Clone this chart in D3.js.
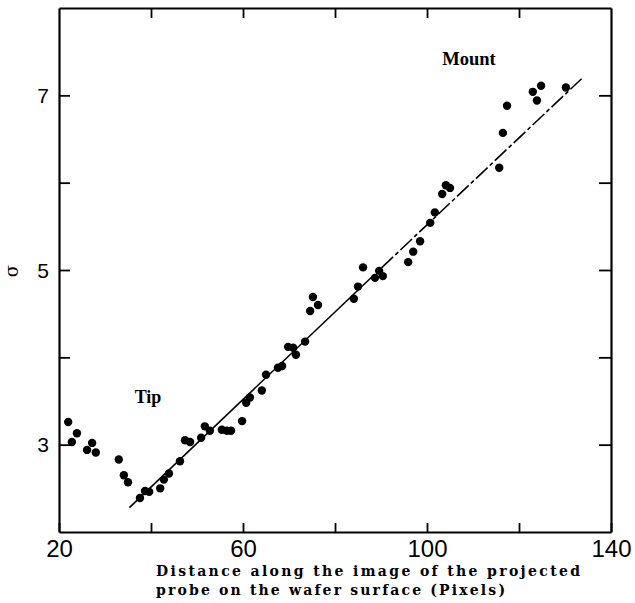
<!DOCTYPE html>
<html>
<head>
<meta charset="utf-8">
<script src="https://cdn.jsdelivr.net/npm/d3@7"></script>
<style>
  body { margin: 0; background: #fff; }
  svg { display: block; }
</style>
</head>
<body>
<div id="root"></div>
<script>
var width = 635;
var height = 603;

// measured points (distance in pixels, sigma)
var distance = [22.0, 22.8, 23.9, 26.1, 27.2, 28.0, 33.0, 34.1, 35.0, 37.6,
  38.7, 39.6, 42.0, 42.8, 43.9, 46.3, 47.4, 48.5, 50.9, 51.7,
  52.8, 55.4, 56.5, 57.4, 59.8, 60.7, 61.5, 64.1, 65.0, 67.6,
  68.5, 69.8, 70.9, 71.5, 73.5, 74.6, 75.2, 76.3, 84.1, 85.0,
  86.1, 88.7, 89.6, 90.4, 95.9, 97.0, 98.5, 100.7, 101.7, 103.3,
  104.1, 105.0, 115.7, 116.5, 117.4, 123.0, 123.9, 124.8, 130.2];
var sigma = [3.26, 3.03, 3.13, 2.94, 3.02, 2.91, 2.83, 2.65, 2.57, 2.39,
  2.47, 2.46, 2.50, 2.60, 2.67, 2.81, 3.05, 3.03, 3.08, 3.21,
  3.16, 3.17, 3.16, 3.16, 3.27, 3.48, 3.54, 3.62, 3.80, 3.88,
  3.90, 4.12, 4.11, 4.03, 4.18, 4.53, 4.69, 4.60, 4.67, 4.81,
  5.03, 4.91, 4.99, 4.93, 5.09, 5.21, 5.33, 5.54, 5.66, 5.87,
  5.97, 5.94, 6.17, 6.57, 6.88, 7.04, 6.94, 7.11, 7.09];

// fitted line: solid part then dashed part
var fitSolidX = [35.3, 86.0];
var fitSolidY = [2.28, 4.82];
var fitDashX = [86.0, 133.6];
var fitDashY = [4.82, 7.19];

var xTicks = [20, 40, 60, 80, 100, 120, 140];
var xTickLabels = [20, 60, 100, 140];
var yTicks = [3, 4, 5, 6, 7];
var yTickLabels = [3, 5, 7];

var margin = { left: 59, right: 24, top: 8, bottom: 71 };
var w = width - margin.left - margin.right;
var h = height - margin.top - margin.bottom;

var svg = d3.select('#root')
    .append('svg')
    .attr('width', width).attr('height', height);
var g = svg.append('g')
    .attr('transform', 'translate(' + margin.left + ',' + margin.top + ')');

var xScale = d3.scaleLinear().domain([20, 140]).range([0, w]);
var yScale = d3.scaleLinear().domain([2, 8]).range([h, 0]);

function fmtX(d) { return xTickLabels.indexOf(d) >= 0 ? d : ''; }
function fmtY(d) { return yTickLabels.indexOf(d) >= 0 ? d : ''; }

var xAxis = d3.axisBottom(xScale).tickValues(xTicks).tickFormat(fmtX)
    .tickSizeInner(-9).tickSizeOuter(0).tickPadding(8);
var xAxisTop = d3.axisTop(xScale).tickValues(xTicks.slice(1, -1)).tickFormat('')
    .tickSizeInner(-10).tickSizeOuter(0);
var yAxis = d3.axisLeft(yScale).tickValues(yTicks).tickFormat(fmtY)
    .tickSizeInner(-11).tickSizeOuter(0).tickPadding(10);
var yAxisRight = d3.axisRight(yScale).tickValues(yTicks).tickFormat('')
    .tickSizeInner(-12).tickSizeOuter(0);

g.append('g').attr('class', 'axis').attr('transform', 'translate(0,' + h + ')').call(xAxis);
g.append('g').attr('class', 'axis').call(xAxisTop);
g.append('g').attr('class', 'axis').call(yAxis);
g.append('g').attr('class', 'axis').attr('transform', 'translate(' + w + ',0)').call(yAxisRight);

g.selectAll('.axis path.domain').attr('stroke', '#000').attr('stroke-width', 2.2);
g.selectAll('.axis .tick line').attr('stroke', '#000').attr('stroke-width', 1.8);
g.selectAll('.axis .tick text')
    .attr('fill', '#000')
    .style('font-family', '"Liberation Sans", Arial, sans-serif');
g.selectAll('.axis').filter(function (d, i) { return i === 0; })
    .selectAll('.tick text').style('font-size', '24px');
g.selectAll('.axis').filter(function (d, i) { return i === 2; })
    .selectAll('.tick text').style('font-size', '21px').attr('dy', '0.34em');

// fitted line
var line = d3.line()
    .x(function (d) { return xScale(d[0]); })
    .y(function (d) { return yScale(d[1]); });
g.append('path')
    .datum(d3.zip(fitSolidX, fitSolidY))
    .attr('d', line)
    .attr('fill', 'none').attr('stroke', '#000').attr('stroke-width', 1.6);
g.append('path')
    .datum(d3.zip(fitDashX, fitDashY))
    .attr('d', line)
    .attr('fill', 'none').attr('stroke', '#000').attr('stroke-width', 1.6)
    .attr('stroke-dasharray', '16,3,4,3');

// points
g.selectAll('.pt')
    .data(d3.zip(distance, sigma)).enter()
    .append('circle')
    .attr('class', 'pt')
    .attr('cx', function (d) { return xScale(d[0]); })
    .attr('cy', function (d) { return yScale(d[1]); })
    .attr('r', 4.2)
    .attr('fill', '#000');

// annotations
svg.append('text')
    .attr('x', 469).attr('y', 65)
    .attr('text-anchor', 'middle')
    .style('font-family', '"Liberation Serif", "Times New Roman", serif')
    .style('font-weight', 'bold').style('font-size', '18.5px')
    .text('Mount');
svg.append('text')
    .attr('x', 148).attr('y', 403)
    .attr('text-anchor', 'middle')
    .style('font-family', '"Liberation Serif", "Times New Roman", serif')
    .style('font-weight', 'bold').style('font-size', '18px')
    .text('Tip');

// axis titles
svg.append('text')
    .attr('transform', 'translate(18,271) rotate(-90)')
    .attr('text-anchor', 'middle')
    .style('font-family', '"DejaVu Serif", serif')
    .style('font-size', '18px')
    .text('σ');

var titleLines = ['Distance along the image of the projected',
  'probe on the wafer surface (Pixels)'];
var titleLengths = [424, 349];
svg.selectAll('.xtitle')
    .data(titleLines).enter()
    .append('text')
    .attr('class', 'xtitle')
    .attr('x', 156)
    .attr('y', function (d, i) { return 576 + i * 19; })
    .attr('textLength', function (d, i) { return titleLengths[i]; })
    .attr('lengthAdjust', 'spacing')
    .style('font-family', '"DejaVu Serif", serif')
    .style('font-weight', 'bold').style('font-size', '14px')
    .text(function (d) { return d; });
</script>
</body>
</html>
